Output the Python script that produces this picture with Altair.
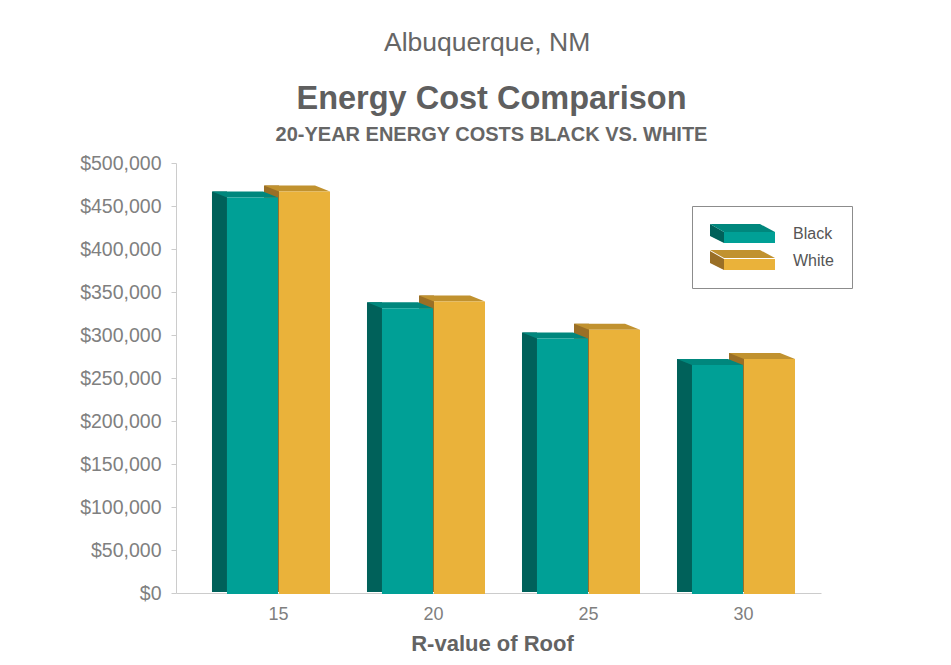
import altair as alt
import pandas as pd

# ---- data ----
r_values = ["15", "20", "25", "30"]
series_names = ["Black", "White"]
black_costs = [460000, 331000, 296000, 265000]
white_costs = [467000, 339000, 306000, 272000]
y_ticks = [0, 50000, 100000, 150000, 200000, 250000, 300000, 350000, 400000, 450000, 500000]

# ---- styling ----
front_colors = ["#00a096", "#eab23a"]
side_colors = ["#00615a", "#9a6f26"]
top_colors = ["#00877d", "#c1922f"]
FONT = "Liberation Sans"
GREY_TXT = "#636363"

rows = []
for r, w in zip(r_values, white_costs):
    rows.append({"R": r, "series": "White", "cost": w})
for r, b in zip(r_values, black_costs):
    rows.append({"R": r, "series": "Black", "cost": b})
df = pd.DataFrame(rows)

x_enc = alt.X(
    "R:N", sort=r_values,
    scale=alt.Scale(paddingInner=0, paddingOuter=0.0806, align=1),
    axis=alt.Axis(title="R-value of Roof", labelAngle=0, ticks=False,
                  domainColor="#cccccc", labelFontSize=18, labelColor="#7f7f7f",
                  labelPadding=12, titleFontSize=22, titleFontWeight="bold",
                  titleColor=GREY_TXT, titlePadding=10, titleX=316,
                  labelFont=FONT, titleFont=FONT),
)
# sub-bands for the front faces (and their top faces)
xoff_front = alt.XOffset("series:N", sort=series_names,
                         scale=alt.Scale(type="band", domain=series_names,
                                         paddingInner=0, paddingOuter=0.49))
# narrower sub-bands, same step, shifted left: the side (depth) faces
xoff_side = alt.XOffset("series:N", sort=series_names,
                        scale=alt.Scale(type="band", domain=series_names, paddingInner=0.7116,
                                        paddingOuter=0.846, align=0.125))
y_enc = alt.Y(
    "cost:Q", scale=alt.Scale(domain=[0, 500000], nice=False),
    axis=alt.Axis(title=None, values=y_ticks, format="$,.0f", grid=False, tickSize=5,
                  tickColor="#cccccc", domainColor="#cccccc", labelFontSize=19.5,
                  labelColor="#808080", labelPadding=10, labelFont=FONT),
)

# legend slab pieces (symbol unit = 9.5px with symbolSize 361)
side_path = "M -1 -1 L 0.4737 -0.1579 L 0.4737 1 L -1 0.2632 Z"
top_path = "M -1 -1 L 4.2632 -1 L 5.8421 -0.1579 L 0.4737 -0.1579 Z"
front_path = "M 0.4737 -0.1579 L 5.8421 -0.1579 L 5.8421 1 L 0.4737 1 Z"


def legend(path, main=False):
    kw = dict(title=None, orient="none", legendX=516, legendY=43, symbolType=path,
              symbolSize=361, symbolStrokeWidth=0, symbolOpacity=1, labelFontSize=16,
              labelColor="#555555", labelOffset=64, padding=18, rowPadding=8,
              labelFont=FONT)
    if main:
        kw.update(strokeColor="#8c8c8c")
    else:
        kw.update(labelExpr="''")
    return alt.Legend(**kw)


def color(rng, path, main=False):
    return alt.Color("series:N", sort=series_names,
                     scale=alt.Scale(domain=series_names, range=rng),
                     legend=legend(path, main))


side = alt.Chart(df).mark_bar(yOffset=-6, y2Offset=-1).encode(
    x=x_enc, xOffset=xoff_side, y=y_enc, y2=alt.datum(0),
    color=color(side_colors, side_path))

top = alt.Chart(df).mark_point(
    shape="M -25.5 0 L 25.5 0 L 10.5 -6 L -40.5 -6 Z", size=4, filled=True,
    opacity=1, strokeWidth=0).encode(
    x=x_enc, xOffset=xoff_front, y=y_enc, color=color(top_colors, top_path))

front = alt.Chart(df).mark_bar(width=51, y2Offset=1).encode(
    x=x_enc, xOffset=xoff_front, y=y_enc, y2=alt.datum(0),
    color=color(front_colors, front_path, True))

layered = alt.layer(side, top, front).resolve_scale(
    color="independent", xOffset="independent").properties(
    width=645, height=430,
    view=alt.ViewBackground(stroke="transparent", strokeWidth=0),
    title=alt.TitleParams(
        text="Energy Cost Comparison",
        subtitle="20-YEAR ENERGY COSTS BLACK VS. WHITE",
        fontSize=32.5, fontWeight="bold", color="#5f5f5f", font=FONT,
        subtitleFontSize=20, subtitleFontWeight="bold", subtitleColor="#666666",
        subtitleFont=FONT, subtitlePadding=10, anchor="middle", frame="group",
        offset=8, dx=-7),
)

chart = alt.vconcat(layered).properties(
    title=alt.TitleParams(text="Albuquerque, NM", fontSize=26.5, fontWeight="normal",
                          color="#666666", font=FONT, anchor="middle", offset=26, dx=21),
    padding={"left": 71, "top": 22, "right": 5, "bottom": 5},
).configure_view(stroke="transparent", strokeWidth=0).configure(font=FONT)

chart.save("out.html", embed_options={"renderer": "svg", "actions": False})
